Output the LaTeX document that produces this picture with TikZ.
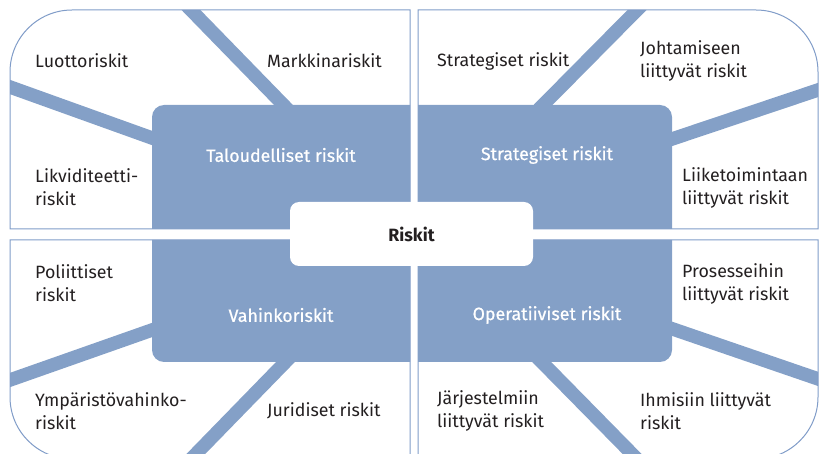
\documentclass[tikz,border=0pt]{standalone}
\usepackage{fontspec}
\setmainfont{Fira Sans}
\newfontfamily\medfont{Fira Sans}[FakeBold=0.7]
\definecolor{rblue}{RGB}{132,160,199}
\definecolor{rframe}{RGB}{128,156,200}
\definecolor{rtext}{RGB}{35,31,32}
\newcommand\qTL{(10,224) -- (10,381) arc[start angle=180,end angle=90,radius=62] -- (410,443) -- (410,224) -- cycle}
\newcommand\qTR{(418,224) -- (418,443) -- (756,443) arc[start angle=90,end angle=0,radius=62] -- (818,224) -- cycle}
\newcommand\qBL{(10,213) -- (410,213) -- (410,-6) -- (72,-6) arc[start angle=270,end angle=180,radius=62] -- cycle}
\newcommand\qBR{(418,213) -- (818,213) -- (818,56) arc[start angle=0,end angle=-90,radius=62] -- (418,-6) -- cycle}
\begin{document}
\begin{tikzpicture}[x=1pt,y=1pt,
  frame/.style={draw=rframe, line width=1pt},
  spoke/.style={draw=rblue, line width=13.5pt},
  bluebox/.style={fill=rblue},
  lbl/.style={text=rtext, font=\fontsize{17.8}{23}\selectfont, align=left, anchor=west, inner sep=0pt},
  wlbl/.style={text=white, font=\fontsize{17.8}{23}\selectfont\medfont, inner sep=0pt}]
\useasboundingbox (0,0) rectangle (820,453);
% spokes, clipped to their quadrant
\begin{scope}
  \clip \qTL;
  \draw[spoke] (181.7,452.5) -- (302,329);
  \draw[spoke] (-4.2,371.1) -- (194.6,299.7);
\end{scope}
\begin{scope}
  \clip \qTR;
  \draw[spoke] (646.4,452.5) -- (524.2,329);
  \draw[spoke] (832.6,367.9) -- (628.2,299.3);
\end{scope}
\begin{scope}
  \clip \qBL;
  \draw[spoke] (-4.2,68) -- (194.6,138);
  \draw[spoke] (181.7,-15.5) -- (302,108);
\end{scope}
\begin{scope}
  \clip \qBR;
  \draw[spoke] (832.6,69.1) -- (628.2,139.3);
  \draw[spoke] (646.4,-15.5) -- (525,108);
\end{scope}
% quadrant frames
\draw[frame] \qTL;
\draw[frame] \qTR;
\draw[frame] \qBL;
\draw[frame] \qBR;
% blue category boxes
\fill[bluebox] (410,224) -- (152,224) -- (152,336) arc[start angle=180,end angle=90,radius=12] -- (410,348) -- cycle;
\fill[bluebox] (418,224) -- (418,348) -- (660,348) arc[start angle=90,end angle=0,radius=12] -- (672,224) -- cycle;
\fill[bluebox] (410,213) -- (152,213) -- (152,103) arc[start angle=180,end angle=270,radius=12] -- (410,91) -- cycle;
\fill[bluebox] (418,213) -- (672,213) -- (672,103) arc[start angle=0,end angle=-90,radius=12] -- (418,91) -- cycle;
% centre
\node[fill=white, rounded corners=9pt, minimum width=243pt, minimum height=64pt, inner sep=0pt,
      text=rtext, font=\fontsize{17.8}{23}\selectfont\bfseries] (riskit) at (411.5,219) {Riskit};
% category labels
\node[wlbl] (talous) at (281,298) {Taloudelliset riskit};
\node[wlbl] (strat) at (547,298) {Strategiset riskit};
\node[wlbl] (vahinko) at (281,138) {Vahinkoriskit};
\node[wlbl] (oper) at (547,138) {Operatiiviset riskit};
% leaf labels
\node[lbl] (luotto) at (35,392) {Luottoriskit};
\node[lbl] (markkina) at (267,392) {Markkinariskit};
\node[lbl] (likvid) at (35,266) {Likviditeetti-\\riskit};
\node[lbl] (strat2) at (437,392) {Strategiset riskit};
\node[lbl] (johto) at (640,392) {Johtamiseen\\liittyvät riskit};
\node[lbl] (liike) at (682,265) {Liiketoimintaan\\liittyvät riskit};
\node[lbl] (poli) at (35,169.5) {Poliittiset\\riskit};
\node[lbl] (ymp) at (35,42) {Ympäristövahinko-\\riskit};
\node[lbl] (juri) at (267,42) {Juridiset riskit};
\node[lbl] (prose) at (682,169.5) {Prosesseihin\\liittyvät riskit};
\node[lbl] (jarj) at (437,42) {Järjestelmiin\\liittyvät riskit};
\node[lbl] (ihmis) at (640,42) {Ihmisiin liittyvät\\riskit};
\end{tikzpicture}
\end{document}
